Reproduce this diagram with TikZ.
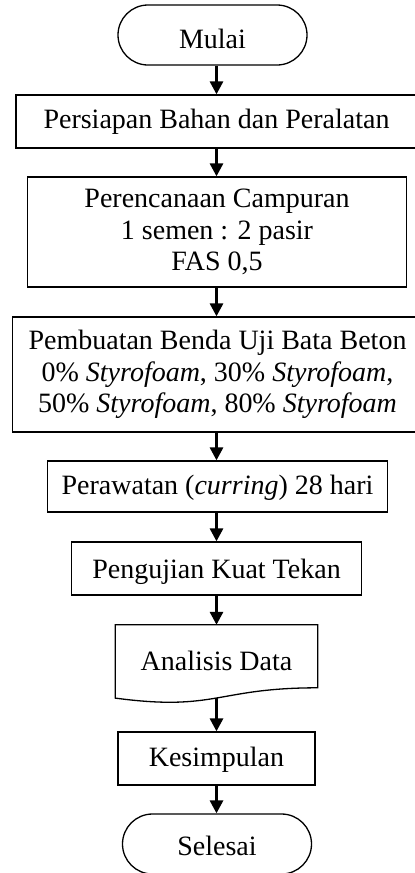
\documentclass[tikz,border=0pt]{standalone}
\usepackage{fontspec}
\setmainfont{Liberation Serif}
\usetikzlibrary{arrows.meta,calc}
\begin{document}
\begin{tikzpicture}[x=1pt,y=-1pt,
  every node/.style={font=\fontsize{28}{31.8}\selectfont},
  box/.style={draw, line width=1.3pt, rectangle, inner xsep=0pt, inner ysep=0pt, align=center},
  term/.style={box, rounded corners=30pt, minimum width=189pt, minimum height=60pt},
  docnode/.style={rectangle, inner xsep=0pt, inner ysep=0pt, align=center},
  docline/.style={draw, line width=1.3pt, line join=miter},
  arr/.style={line width=3pt, -{Triangle[width=13pt,length=13pt]}}
]
\useasboundingbox (0,0) rectangle (415,873);
\clip (0,0) rectangle (415,873);

\node[term, text height=43pt, text depth=17pt] (mulai) at (212.5,35) {Mulai};
\node[box, minimum width=401pt, text height=33pt, text depth=20pt] (persiapan) at (216.5,121.5) {Persiapan Bahan dan Peralatan};
\node[box, minimum width=379pt, minimum height=110pt] (perencanaan) at (217,232)
  {Perencanaan Campuran\\1 semen : 2 pasir\\FAS 0,5};
\node[box, minimum width=410pt, minimum height=115pt] (pembuatan) at (217.5,374.5)
  {Pembuatan Benda Uji Bata Beton\\0\% \textit{Styrofoam}, 30\% \textit{Styrofoam},\\50\% \textit{Styrofoam}, 80\% \textit{Styrofoam}};
\node[box, minimum width=340pt, text height=33pt, text depth=18pt] (perawatan) at (217.5,486.5) {Perawatan (\textit{curring}) 28 hari};
\node[box, minimum width=290pt, text height=36pt, text depth=17pt] (pengujian) at (216.5,568.5) {Pengujian Kuat Tekan};
\node[docnode, minimum width=202pt, text height=45pt, text depth=33pt] (analisis) at (216.5,664) {Analisis Data};
\draw[docline] (analisis.north west) -- (analisis.north east)
  -- ($(analisis.south east)+(0,-15.4)$)
  .. controls ($(analisis.south)+(0,-15.4)$) and ($(analisis.south)+(0,8.4)$) ..
  ($(analisis.south west)+(0,-5.1)$) -- cycle;
\coordinate (dbot) at ($(analisis.south)+(0,-5)$);
\node[box, minimum width=197pt, text height=34pt, text depth=19pt] (kesimpulan) at (216.5,758.5) {Kesimpulan};
\node[term, text height=41pt, text depth=19pt] (selesai) at (217,844) {Selesai};

\foreach \a/\b in {mulai/persiapan, persiapan/perencanaan, perencanaan/pembuatan,
  pembuatan/perawatan, perawatan/pengujian, pengujian/analisis, kesimpulan/selesai}
  \draw[arr] (\a.south -| analisis.north) -- (\b.north -| analisis.north);
\draw[arr] (dbot) -- (kesimpulan.north);
\end{tikzpicture}
\end{document}
